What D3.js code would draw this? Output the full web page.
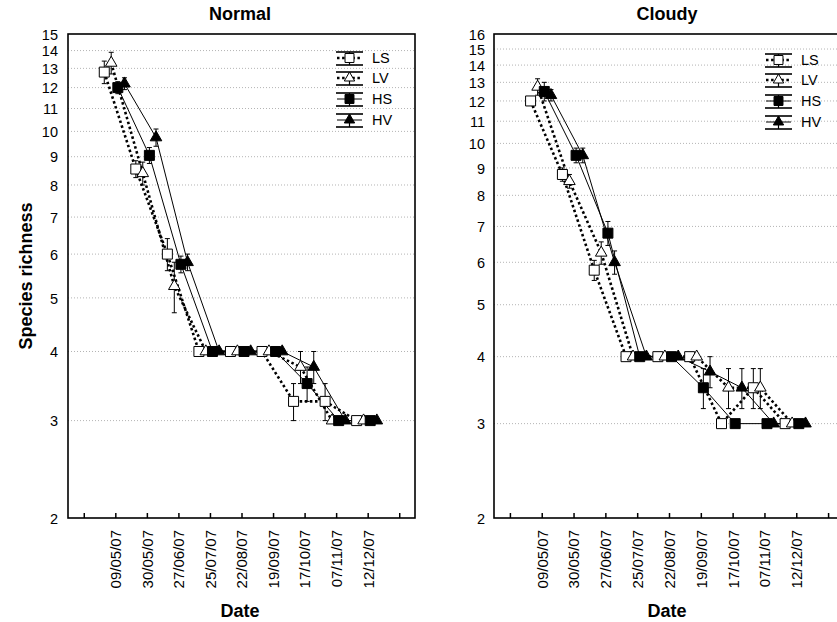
<!DOCTYPE html>
<html>
<head>
<meta charset="utf-8">
<script src="https://cdn.jsdelivr.net/npm/d3@7"></script>
<style>
  body { margin: 0; background: #fff; }
  svg { display: block; }
  text { font-family: "Liberation Sans", Arial, sans-serif; fill: #000; }
</style>
</head>
<body>
<svg id="chart" width="837" height="622"></svg>
<script>
// Sampling dates (x categories)
const dates = ["09/05/07", "30/05/07", "27/06/07", "25/07/07", "22/08/07",
               "19/09/07", "17/10/07", "07/11/07", "12/12/07"];
const seriesNames = ["LS", "LV", "HS", "HV"];

// Normal treatment: mean species richness and error half-widths
const normalLS    = [12.8, 8.55, 6.0, 4, 4, 4, 3.25, 3.25, 3];
const normalLSErr = [0.6, 0.3, 0.4, 0, 0, 0, 0.25, 0.25, 0];
const normalLV    = [13.3, 8.4, 5.25, 4, 4, 4, 3.75, 3.0, 3];
const normalLVErr = [0.6, 0.4, 0.55, 0, 0, 0, 0.25, 0, 0];
const normalHS    = [12.0, 9.05, 5.75, 4, 4, 4, 3.5, 3.0, 3];
const normalHSErr = [0.3, 0.3, 0.2, 0, 0, 0, 0.25, 0, 0];
const normalHV    = [12.2, 9.75, 5.8, 4, 4, 4, 3.75, 3.0, 3];
const normalHVErr = [0.3, 0.35, 0.2, 0, 0, 0, 0.25, 0, 0];

// Cloudy treatment
const cloudyLS    = [12.0, 8.75, 5.8, 4, 4, 4, 3.0, 3.5, 3.0];
const cloudyLSErr = [0.2, 0.25, 0.25, 0, 0, 0, 0, 0.3, 0];
const cloudyLV    = [12.75, 8.5, 6.25, 4, 4, 4, 3.5, 3.5, 3.0];
const cloudyLVErr = [0.45, 0.25, 0.3, 0, 0, 0, 0.3, 0.3, 0];
const cloudyHS    = [12.5, 9.5, 6.8, 4, 4, 3.5, 3.0, 3.0, 3.0];
const cloudyHSErr = [0.5, 0.3, 0.35, 0, 0, 0.3, 0, 0, 0];
const cloudyHV    = [12.3, 9.5, 6.0, 4, 4, 3.75, 3.5, 3.0, 3.0];
const cloudyHVErr = [0.3, 0.3, 0.3, 0, 0, 0.25, 0.3, 0, 0];

// Y axis tick labels
const normalTicks = [2, 3, 4, 5, 6, 7, 8, 9, 10, 11, 12, 13, 14, 15];
const cloudyTicks = [2, 3, 4, 5, 6, 7, 8, 9, 10, 11, 12, 13, 14, 15, 16];

const svg = d3.select("#chart");

// Per-series look: dotted bold lines for the L series, thin solid lines for H
const styles = {
  LS: { dash: "2.5,2.6", width: 2.6, shape: d3.symbolSquare, size: 100, fill: "#fff" },
  LV: { dash: "2.5,2.6", width: 2.6, shape: d3.symbolTriangle, size: 58, fill: "#fff" },
  HS: { dash: null, width: 1, shape: d3.symbolSquare, size: 100, fill: "#000" },
  HV: { dash: null, width: 1, shape: d3.symbolTriangle, size: 58, fill: "#000" }
};
// Horizontal nudge of each series around its date (in category units)
const offsets = { LS: -0.35, LV: -0.13, HS: 0.08, HV: 0.29 };

const panels = [
  {
    title: "Normal", left: 68, right: 415, yMax: 15, ticks: normalTicks,
    labelX: 58, legendX: 336, legendY: [58, 78, 99, 120], titleX: 240,
    series: { LS: [normalLS, normalLSErr], LV: [normalLV, normalLVErr],
              HS: [normalHS, normalHSErr], HV: [normalHV, normalHVErr] }
  },
  {
    title: "Cloudy", left: 494, right: 844, yMax: 16, ticks: cloudyTicks,
    labelX: 485, legendX: 765, legendY: [60, 80, 101, 122], titleX: 667,
    series: { LS: [cloudyLS, cloudyLSErr], LV: [cloudyLV, cloudyLVErr],
              HS: [cloudyHS, cloudyHSErr], HV: [cloudyHV, cloudyHVErr] }
  }
];

const plotTop = 34, plotBottom = 518;

panels.forEach(p => {
  const g = svg.append("g");
  const x = d3.scaleLinear().domain([-0.5, 10.5]).range([p.left, p.right]);
  const y = d3.scaleLog().domain([2, p.yMax]).range([plotBottom, plotTop]);

  // dotted horizontal gridlines
  g.append("g").selectAll("line")
    .data(p.ticks.filter(t => t > 2 && t < p.yMax))
    .join("line")
    .attr("x1", p.left).attr("x2", p.right)
    .attr("y1", d => y(d)).attr("y2", d => y(d))
    .attr("stroke", "#b4b4b4").attr("stroke-width", 1)
    .attr("stroke-dasharray", "1,2");

  // y axis labels
  const ya = g.append("g").attr("transform", `translate(${p.left},0)`)
    .call(d3.axisLeft(y).tickValues(p.ticks).tickFormat(d3.format("d"))
      .tickSize(0).tickPadding(p.left - p.labelX));
  ya.select(".domain").remove();
  ya.selectAll("text").style("font-size", "14.5px").attr("dy", "0.36em");

  // x axis: inward ticks, rotated date labels
  const xa = g.append("g").attr("transform", `translate(0,${plotBottom})`)
    .call(d3.axisBottom(x).tickValues(d3.range(0, 11))
      .tickFormat(i => (i >= 1 && i <= dates.length) ? dates[i - 1] : "")
      .tickSize(-5));
  xa.select(".domain").remove();
  xa.selectAll("line").attr("stroke", "#000").attr("stroke-width", 1.5);
  xa.selectAll("text")
    .style("font-size", "15px")
    .attr("transform", "rotate(-90)")
    .attr("x", -12).attr("y", 0).attr("dy", "0.36em")
    .style("text-anchor", "end");

  // series
  const xs = (name, i) => x(i + 1 + offsets[name]);
  const lineGen = name => d3.line().x((d, i) => xs(name, i)).y(d => y(d));

  seriesNames.forEach(name => {
    const st = styles[name];
    g.append("path")
      .attr("d", lineGen(name)(p.series[name][0]))
      .attr("fill", "none").attr("stroke", "#000")
      .attr("stroke-width", st.width)
      .attr("stroke-dasharray", st.dash);
  });

  // error whiskers with small caps
  seriesNames.forEach(name => {
    const [vals, errs] = p.series[name];
    const pts = vals.map((v, i) => ({ v, e: errs[i], i })).filter(d => d.e > 0);
    const eg = g.append("g").attr("stroke", "#000").attr("stroke-width", 1);
    eg.selectAll("line.w").data(pts).join("line").attr("class", "w")
      .attr("x1", d => xs(name, d.i)).attr("x2", d => xs(name, d.i))
      .attr("y1", d => y(d.v + d.e)).attr("y2", d => y(d.v - d.e));
    eg.selectAll("line.cu").data(pts).join("line").attr("class", "cu")
      .attr("x1", d => xs(name, d.i) - 2.5).attr("x2", d => xs(name, d.i) + 2.5)
      .attr("y1", d => y(d.v + d.e)).attr("y2", d => y(d.v + d.e));
    eg.selectAll("line.cd").data(pts).join("line").attr("class", "cd")
      .attr("x1", d => xs(name, d.i) - 2.5).attr("x2", d => xs(name, d.i) + 2.5)
      .attr("y1", d => y(d.v - d.e)).attr("y2", d => y(d.v - d.e));
  });

  seriesNames.forEach(name => {
    const st = styles[name];
    g.append("g").selectAll("path")
      .data(p.series[name][0])
      .join("path")
      .attr("transform", (d, i) => `translate(${xs(name, i)},${y(d)})`)
      .attr("d", d3.symbol().type(st.shape).size(st.size))
      .attr("fill", st.fill).attr("stroke", "#000").attr("stroke-width", 1);
  });

  // frame
  g.append("rect")
    .attr("x", p.left).attr("y", plotTop)
    .attr("width", p.right - p.left).attr("height", plotBottom - plotTop)
    .attr("fill", "none").attr("stroke", "#000").attr("stroke-width", 1.6);

  // legend
  const lw = 27;
  seriesNames.forEach((name, k) => {
    const st = styles[name];
    const cy = p.legendY[k];
    const lg = g.append("g").attr("transform", `translate(${p.legendX},${cy})`);
    lg.append("line").attr("x1", 0).attr("x2", lw).attr("y1", -6).attr("y2", -6)
      .attr("stroke", "#000").attr("stroke-width", 1.6);
    lg.append("line").attr("x1", 0).attr("x2", lw).attr("y1", 7).attr("y2", 7)
      .attr("stroke", "#000").attr("stroke-width", 1.6);
    lg.append("line").attr("x1", lw / 2).attr("x2", lw / 2).attr("y1", -6).attr("y2", 7)
      .attr("stroke", "#000").attr("stroke-width", 1.2);
    lg.append("line").attr("x1", 1).attr("x2", lw - 1).attr("y1", 0).attr("y2", 0)
      .attr("stroke", "#000").attr("stroke-width", st.width)
      .attr("stroke-dasharray", st.dash);
    lg.append("path").attr("transform", `translate(${lw / 2},0)`)
      .attr("d", d3.symbol().type(st.shape).size(st.size * 0.8))
      .attr("fill", st.fill).attr("stroke", "#000");
    lg.append("text").attr("x", lw + 9).attr("y", 0).attr("dy", "0.36em")
      .style("font-size", "14.5px").text(name);
  });

  // panel title and x axis title
  svg.append("text").attr("x", p.titleX).attr("y", 20).attr("text-anchor", "middle")
    .style("font-size", "18px").style("font-weight", "bold").text(p.title);
  svg.append("text").attr("x", p.titleX).attr("y", 617).attr("text-anchor", "middle")
    .style("font-size", "18px").style("font-weight", "bold").text("Date");
});

svg.append("text")
  .attr("transform", "translate(32,276) rotate(-90)")
  .attr("text-anchor", "middle")
  .style("font-size", "18px").style("font-weight", "bold")
  .text("Species richness");
</script>
</body>
</html>
